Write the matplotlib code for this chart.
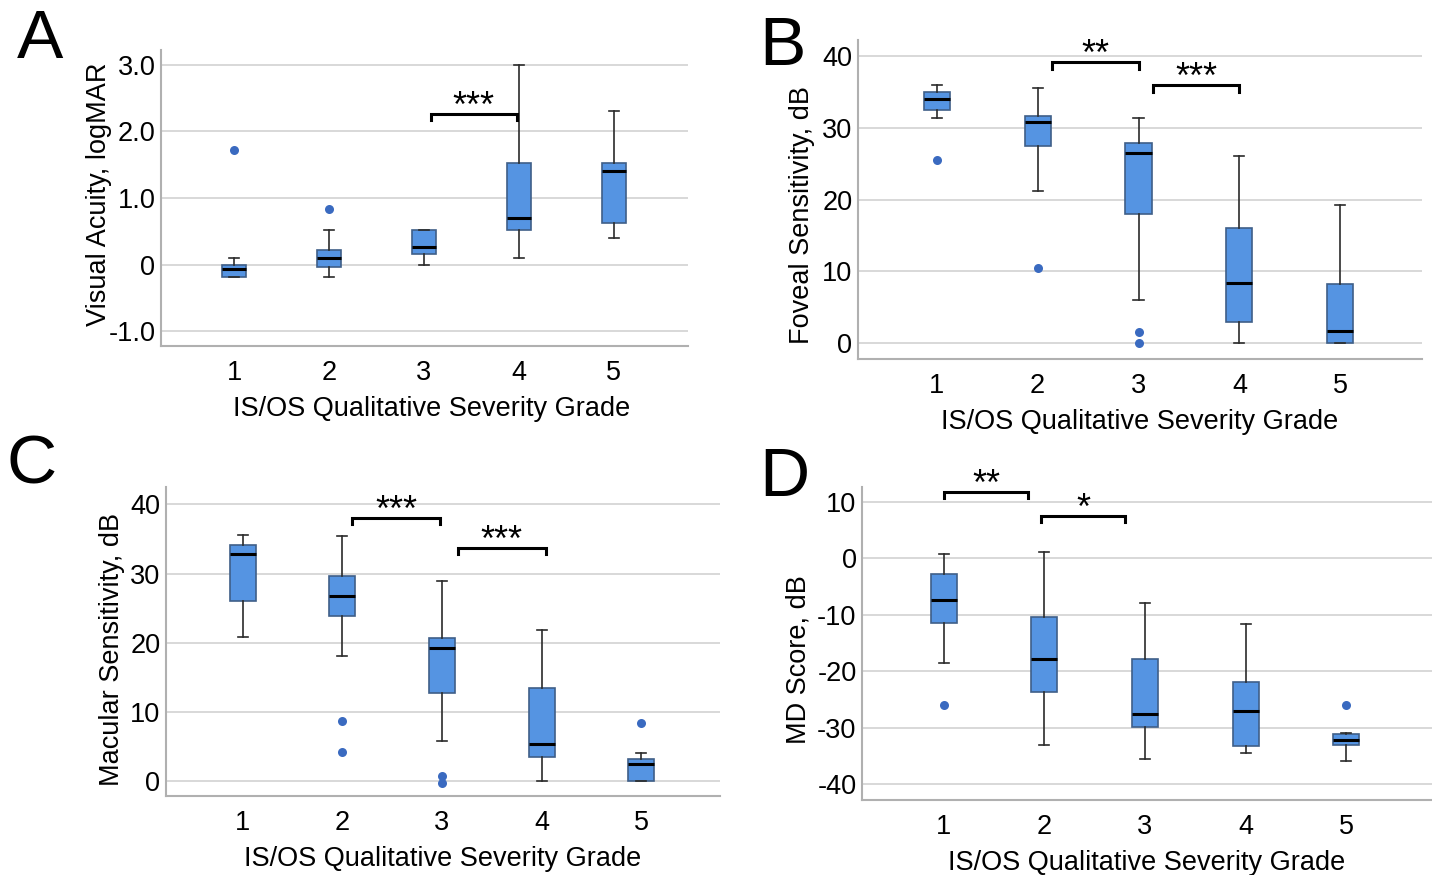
import matplotlib.pyplot as plt

plt.rcParams['font.family'] = ['Liberation Sans', 'DejaVu Sans']

grades = [1, 2, 3, 4, 5]
grade_labels = ['1', '2', '3', '4', '5']

# A: visual acuity, logMAR
va_whislo = [-0.18, -0.18, 0.0, 0.1, 0.4]
va_q1 = [-0.18, -0.04, 0.16, 0.52, 0.62]
va_med = [-0.07, 0.1, 0.26, 0.7, 1.4]
va_q3 = [0.0, 0.22, 0.52, 1.52, 1.52]
va_whishi = [0.1, 0.52, 0.52, 3.0, 2.3]
va_fliers = [[1.72], [0.83], [], [], []]

# B: foveal sensitivity, dB
fs_whislo = [31.3, 21.2, 6.0, 0.0, 0.0]
fs_q1 = [32.5, 27.4, 18.0, 3.0, 0.0]
fs_med = [34.0, 30.8, 26.5, 8.4, 1.7]
fs_q3 = [35.0, 31.6, 27.9, 16.0, 8.2]
fs_whishi = [36.0, 35.5, 31.3, 26.0, 19.3]
fs_fliers = [[25.5], [10.4], [1.6, 0.0], [], []]

# C: macular sensitivity, dB
ms_whislo = [20.8, 18.1, 5.8, 0.0, 0.0]
ms_q1 = [26.0, 23.9, 12.8, 3.5, 0.0]
ms_med = [32.9, 26.7, 19.3, 5.4, 2.5]
ms_q3 = [34.1, 29.7, 20.7, 13.5, 3.3]
ms_whishi = [35.6, 35.4, 28.9, 21.9, 4.1]
ms_fliers = [[], [8.7, 4.2], [0.8, -0.2], [], [8.4]]

# D: MD score, dB
md_whislo = [-18.5, -33.1, -35.6, -34.4, -35.9]
md_q1 = [-11.5, -23.7, -29.8, -33.3, -33.1]
md_med = [-7.4, -17.8, -27.5, -27.1, -32.1]
md_q3 = [-2.8, -10.4, -17.8, -21.9, -31.1]
md_whishi = [0.8, 1.1, -8.0, -11.6, -30.9]
md_fliers = [[-25.9], [], [], [], [-25.9]]

xlabel = 'IS/OS Qualitative Severity Grade'

box_fc = '#5594E2'
box_ec = '#3F5F88'
flier_c = '#3A6AC0'


def make_stats(lo, q1, med, q3, hi, fl):
    stats = []
    for i in range(len(med)):
        stats.append(dict(whislo=lo[i], q1=q1[i], med=med[i], q3=q3[i],
                          whishi=hi[i], fliers=fl[i], label=grade_labels[i]))
    return stats


def draw_panel(rect, stats, ylim, yticks, yticklabels, ylabel, ylab_xy,
               xlab_x, brackets, xlim):
    ax = fig.add_axes(rect)
    ax.bxp(stats, positions=grades, widths=0.26, patch_artist=True,
           capwidths=0.1,
           boxprops=dict(facecolor=box_fc, edgecolor=box_ec, linewidth=1.2),
           medianprops=dict(color='black', linewidth=2.2),
           whiskerprops=dict(color='#2b2b2b', linewidth=1.2),
           capprops=dict(color='#2b2b2b', linewidth=1.2),
           flierprops=dict(marker='o', markerfacecolor=flier_c,
                           markeredgecolor='none', markersize=6.5))
    ax.set_xlim(xlim)
    ax.set_ylim(ylim)
    ax.set_yticks(yticks)
    ax.set_yticklabels(yticklabels)
    ax.set_xticks(grades)
    ax.set_xticklabels(grade_labels)
    ax.set_axisbelow(True)
    ax.yaxis.grid(True, color='#d6d6d6', linewidth=1.3)
    for s in ['top', 'right']:
        ax.spines[s].set_visible(False)
    for s in ['left', 'bottom']:
        ax.spines[s].set_color('#b0b0b0')
        ax.spines[s].set_linewidth(1.5)
    ax.tick_params(axis='both', length=0, labelsize=19.5)
    ax.tick_params(axis='x', pad=10)
    ax.tick_params(axis='y', pad=4)
    ax.set_xlabel(xlabel, fontsize=19.5, labelpad=7)
    ax.set_ylabel(ylabel, fontsize=19.5)
    ax.yaxis.set_label_coords(*ylab_xy)
    ax.xaxis.label.set_x(xlab_x)
    h = (ylim[1] - ylim[0]) * 0.02
    for x0, x1, y, txt in brackets:
        ax.plot([x0, x0, x1, x1], [y - h, y, y, y - h], color='black',
                linewidth=2.2, clip_on=False, solid_joinstyle='miter')
        ax.text((x0 + x1) / 2, y - h * 0.5, txt, ha='center', va='baseline',
                fontsize=26)
    return ax


fig = plt.figure(figsize=(14.32, 8.75), dpi=100)

draw_panel([0.1124, 0.6046, 0.368, 0.3383],
           make_stats(va_whislo, va_q1, va_med, va_q3, va_whishi, va_fliers),
           (-1.22, 3.22), [-1, 0, 1, 2, 3], ['-1.0', '0', '1.0', '2.0', '3.0'],
           'Visual Acuity, logMAR', (-0.092, 0.513), 0.514,
           [(3.07, 3.98, 2.26, '***')], (0.23, 5.78))

draw_panel([0.5992, 0.5897, 0.3938, 0.3646],
           make_stats(fs_whislo, fs_q1, fs_med, fs_q3, fs_whishi, fs_fliers),
           (-2.2, 42.2), [0, 10, 20, 30, 40], ['0', '10', '20', '30', '40'],
           'Foveal Sensitivity, dB', (-0.077, 0.45), 0.5,
           [(2.14, 3.0, 39.1, '**'), (3.14, 4.0, 35.9, '***')], (0.22, 5.81))

draw_panel([0.1159, 0.0903, 0.3869, 0.3531],
           make_stats(ms_whislo, ms_q1, ms_med, ms_q3, ms_whishi, ms_fliers),
           (-2.1, 42.5), [0, 10, 20, 30, 40], ['0', '10', '20', '30', '40'],
           'Macular Sensitivity, dB', (-0.074, 0.474), 0.5,
           [(2.1, 2.98, 38.1, '***'), (3.16, 4.04, 33.7, '***')], (0.23, 5.79))

draw_panel([0.602, 0.0857, 0.398, 0.3577],
           make_stats(md_whislo, md_q1, md_med, md_q3, md_whishi, md_fliers),
           (-42.8, 12.6), [-40, -30, -20, -10, 0, 10],
           ['-40', '-30', '-20', '-10', '0', '10'],
           'MD Score, dB', (-0.088, 0.449), 0.5,
           [(1.0, 1.84, 11.7, '**'), (1.97, 2.8, 7.5, '*')], (0.19, 5.85))

for letter, x, y in [('A', 40, 40), ('B', 782, 47), ('C', 32, 466), ('D', 784, 478)]:
    fig.text(x / 1432, 1 - y / 875, letter, fontsize=50, ha='center',
             va='center')

fig.savefig('out.png', dpi=100)
